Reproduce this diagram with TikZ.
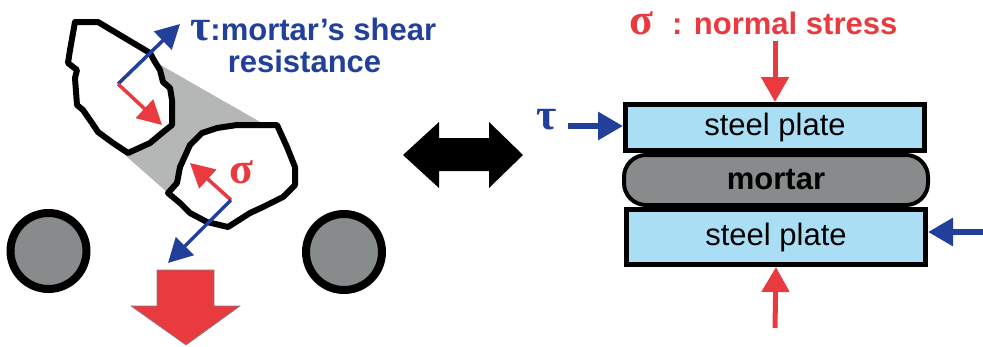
\documentclass[tikz,border=0pt]{standalone}
\usepackage{fontspec}
\setmainfont{Liberation Sans}
\newfontfamily\greekfont{Liberation Serif}
\usetikzlibrary{arrows.meta}

\definecolor{stressred}{RGB}{233,58,63}
\definecolor{shearblue}{RGB}{34,64,154}
\definecolor{platecol}{RGB}{169,222,245}
\definecolor{mortarcol}{RGB}{136,139,139}
\definecolor{shadecol}{RGB}{181,183,183}

\begin{document}
\begin{tikzpicture}[x=1pt,y=-1pt,
		label/.style={inner sep=0pt,font=\bfseries\fontsize{31}{31}\selectfont},
		greek/.style={inner sep=0pt,font=\greekfont\bfseries\fontsize{44}{44}\selectfont},
		plate/.style={draw,line width=5pt,fill=platecol,minimum width=299pt,inner sep=0pt,font=\fontsize{31}{31}\selectfont},
		stone/.style={draw,line width=6pt,line join=round,fill=white},
		rebar/.style={draw,line width=8pt,fill=mortarcol},
		normal/.style={stressred,line width=5pt,-{Triangle[length=25pt,width=27pt]}},
		shear/.style={shearblue,line width=6pt,-{Triangle[length=25pt,width=27pt]}},
		smallnormal/.style={stressred,line width=3.5pt,-{Triangle[length=24pt,width=25pt]}},
		smallshear/.style={shearblue,line width=3.5pt,-{Triangle[length=24pt,width=25pt]}}]
		\useasboundingbox (0,0) rectangle (983,346);

		\fill[shadecol] (157,63) -- (262,123) -- (168,193) -- (126,156) -- cycle;
		\draw[stone] (75,22) -- (98,22) -- (150,53) -- (155,62) -- (160,70) -- (163,82) -- (170,88)
			-- (172,100) -- (172,125) -- (162,133) -- (150,143) -- (128,153) -- (113,143) -- (98,132)
			-- (92,123) -- (83,110) -- (77,105) -- (75,78) -- (77,70) -- (68,63) -- (70,50) -- cycle;
		\draw[stone] (168,193) -- (177,183) -- (180,167) -- (190,145) -- (202,133) -- (217,128)
			-- (237,125) -- (277,125) -- (287,147) -- (295,167) -- (295,185) -- (283,197) -- (263,207)
			-- (250,213) -- (228,227) -- (207,222) -- (190,213) -- (180,203) -- cycle;

		\coordinate (contA) at (118,84);
		\coordinate (tauA) at (180,24);
		\coordinate (sigA) at (162,125);
		\draw[smallshear] (contA) -- (tauA);
		\draw[smallnormal] (contA) -- (sigA);
		\coordinate (contB) at (231,200);
		\coordinate (sigB) at (190,163);
		\coordinate (tauB) at (168,263);
		\draw[smallnormal] (contB) -- (sigB);
		\draw[smallshear] (contB) -- (tauB);
		\node[greek,text=stressred] (sigB label) at (241,172) {σ};

		\node[label,anchor=base west,text=shearblue] (taulabel) at (190,40) {{\greekfont\fontsize{44}{44}\selectfont τ}:mortar’s shear};
		\node[label,anchor=base,text=shearblue] (reslabel) at (304.5,72) {resistance};

		\draw[rebar] (48.5,251) circle (38pt);
		\draw[rebar] (344,252) circle (38pt);
		\draw[draw=black!50,line width=0.6pt,fill=stressred] (157,270) -- (214,270) -- (214,306)
			-- (240,306) -- (186,345) -- (131,306) -- (157,306) -- cycle;

		\fill (403,155) -- (439,122) -- (439,138) -- (489,138) -- (489,122) -- (523,155)
			-- (489,188) -- (489,171) -- (439,171) -- (439,188) -- cycle;

		\node[draw,line width=4pt,fill=mortarcol,rounded corners=22pt,minimum width=304pt,minimum height=50pt,
			label,font=\bfseries\fontsize{31}{31}\selectfont] (mortar) at (776,180) {mortar};
		\node[plate,minimum height=46pt] (topplate) at (775,127.5) {steel plate};
		\node[plate,minimum height=55pt] (botplate) at (776,237) {steel plate};

		\node[greek,anchor=base west,text=stressred] (sigT) at (629,34) {σ};
		\node[label,anchor=base west,text=stressred] (sigtext) at (672,34) {: normal stress};
		\node[greek,anchor=base west,text=shearblue] (tauT) at (536,129) {τ};

		\coordinate (sigin) at (775,41);
		\coordinate (sigout) at (775,328);
		\coordinate (tauin) at (568,126);
		\coordinate (tauout) at (983,232);
		\draw[normal] (sigin) -- (topplate.north);
		\draw[normal] (sigout) -- (botplate.south);
		\draw[shear] (tauin) -- (tauin -| topplate.west);
		\draw[shear] (tauout) -- (tauout -| botplate.east);
\end{tikzpicture}
\end{document}
